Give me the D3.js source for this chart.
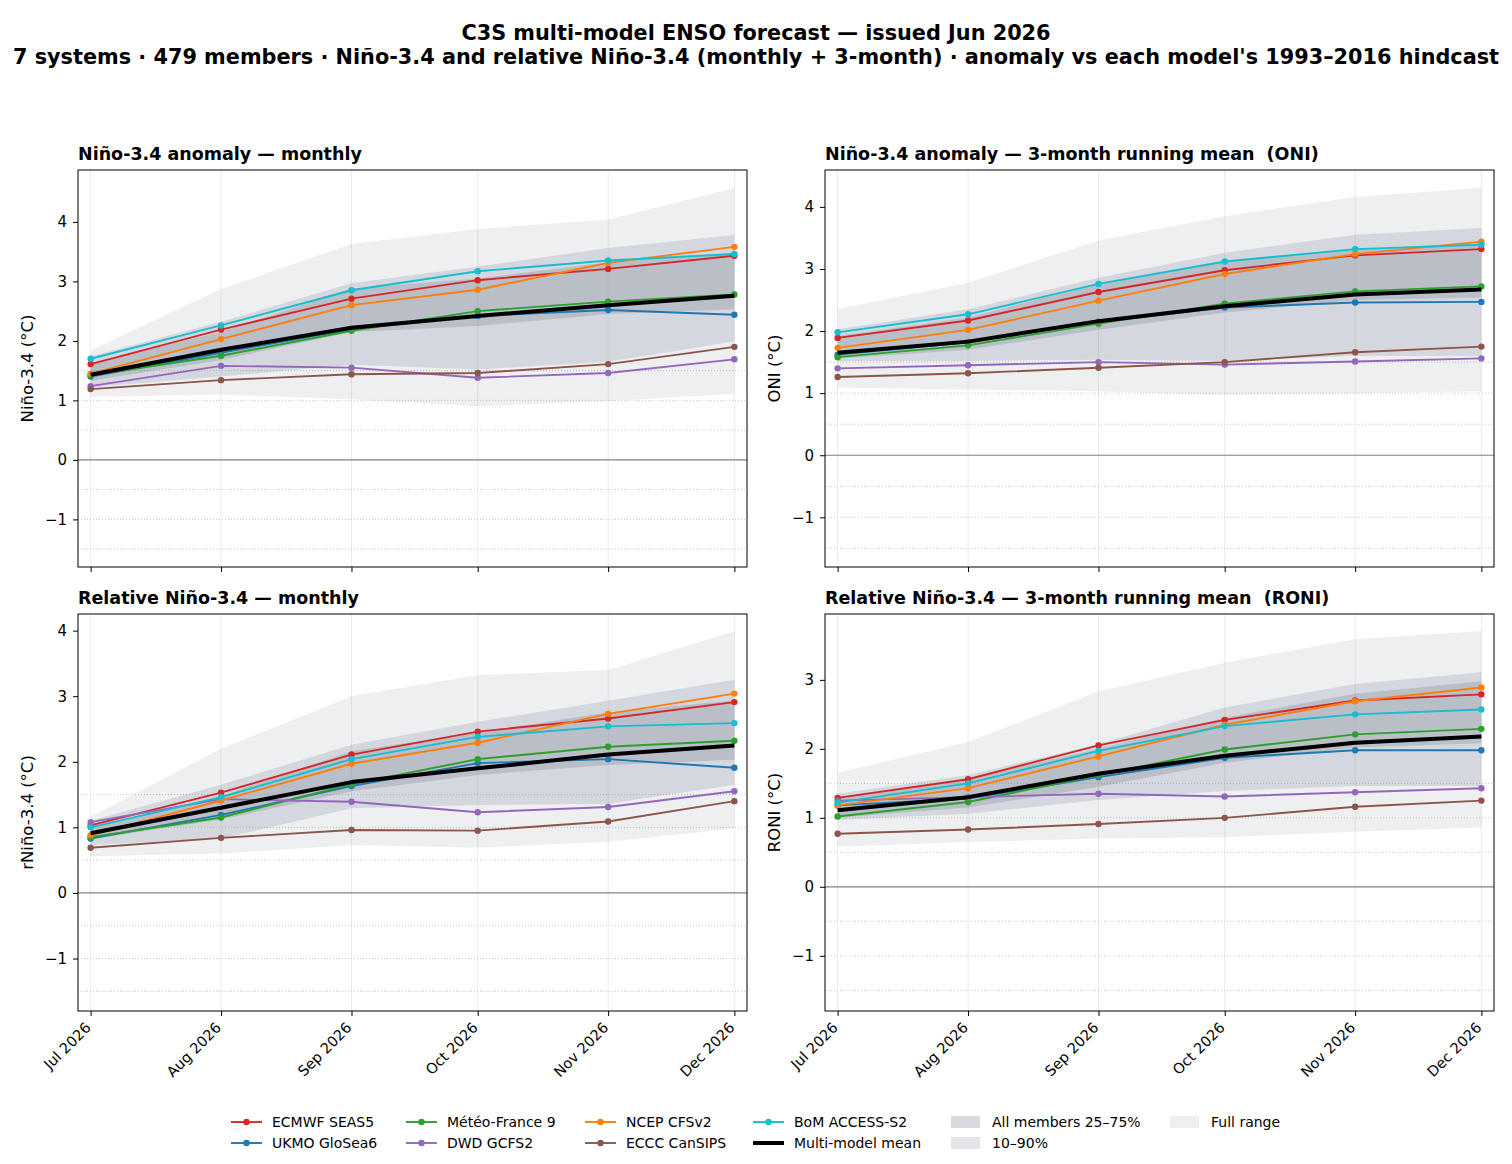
<!DOCTYPE html>
<html>
<head>
<meta charset="utf-8">
<title>C3S multi-model ENSO forecast</title>
<style>
body { margin: 0; background: #fff; }
text { font-family: "DejaVu Sans", sans-serif; fill: #000; white-space: pre; }
.tick line { stroke: #000; }
</style>
</head>
<body>
<script src="https://cdn.jsdelivr.net/npm/d3@7"></script>
<script>

// ---- data ----
const months = ["2026-07-01", "2026-08-01", "2026-09-01", "2026-10-01", "2026-11-01", "2026-12-01"];
const models = ["ECMWF SEAS5", "UKMO GloSea6", "Météo-France 9", "DWD GCFS2", "NCEP CFSv2", "ECCC CanSIPS", "BoM ACCESS-S2"];
const modelColors = ["#d62728", "#1f77b4", "#2ca02c", "#9467bd", "#ff7f0e", "#8c564b", "#17becf"];

// Niño-3.4 monthly
const n34Mon = [
  [1.61, 2.19, 2.71, 3.02, 3.21, 3.43],
  [1.40, 1.80, 2.20, 2.42, 2.52, 2.44],
  [1.42, 1.75, 2.17, 2.50, 2.66, 2.78],
  [1.24, 1.58, 1.55, 1.38, 1.46, 1.69],
  [1.45, 2.03, 2.60, 2.86, 3.31, 3.58],
  [1.19, 1.34, 1.44, 1.46, 1.61, 1.90],
  [1.70, 2.26, 2.85, 3.17, 3.35, 3.46]
];
const n34MonMean = [1.43, 1.85, 2.22, 2.42, 2.60, 2.76];
const n34MonMin = [1.06, 1.10, 1.02, 0.90, 0.99, 1.11];
const n34MonMax = [1.84, 2.87, 3.63, 3.88, 4.04, 4.57];
const n34MonP10 = [1.22, 1.40, 1.60, 1.52, 1.65, 1.99];
const n34MonP90 = [1.74, 2.32, 2.97, 3.25, 3.56, 3.78];
const n34MonP25 = [1.33, 1.68, 2.15, 2.25, 2.45, 2.53];
const n34MonP75 = [1.62, 2.15, 2.88, 3.05, 3.32, 3.48];

// ONI (3-month running mean)
const oni = [
  [1.89, 2.17, 2.63, 2.98, 3.22, 3.32],
  [1.62, 1.82, 2.15, 2.38, 2.46, 2.47],
  [1.58, 1.77, 2.12, 2.44, 2.64, 2.72],
  [1.40, 1.45, 1.50, 1.46, 1.51, 1.56],
  [1.73, 2.02, 2.49, 2.92, 3.24, 3.44],
  [1.26, 1.32, 1.41, 1.50, 1.66, 1.75],
  [1.98, 2.27, 2.76, 3.12, 3.32, 3.39]
];
const oniMean = [1.65, 1.83, 2.16, 2.40, 2.59, 2.67];
const oniMin = [1.09, 1.06, 1.03, 0.97, 1.00, 1.03];
const oniMax = [2.35, 2.78, 3.46, 3.85, 4.16, 4.31];
const oniP10 = [1.52, 1.52, 1.54, 1.52, 1.60, 1.60];
const oniP90 = [2.03, 2.35, 2.86, 3.26, 3.55, 3.66];
const oniP25 = [1.56, 1.70, 2.02, 2.30, 2.50, 2.54];
const oniP75 = [1.92, 2.22, 2.76, 3.12, 3.32, 3.42];

// relative Niño-3.4 monthly
const rn34Mon = [
  [1.03, 1.53, 2.11, 2.46, 2.66, 2.91],
  [0.83, 1.19, 1.63, 1.98, 2.04, 1.91],
  [0.85, 1.15, 1.66, 2.04, 2.23, 2.32],
  [1.08, 1.43, 1.39, 1.23, 1.31, 1.55],
  [0.88, 1.41, 1.97, 2.29, 2.73, 3.04],
  [0.69, 0.84, 0.96, 0.95, 1.09, 1.40],
  [1.00, 1.46, 2.04, 2.38, 2.54, 2.59]
];
const rn34MonMean = [0.91, 1.30, 1.69, 1.90, 2.11, 2.25];
const rn34MonMin = [0.56, 0.60, 0.73, 0.69, 0.78, 0.98];
const rn34MonMax = [1.16, 2.20, 3.00, 3.32, 3.40, 3.99];
const rn34MonP10 = [0.73, 0.83, 1.29, 1.34, 1.36, 1.65];
const rn34MonP90 = [1.10, 1.65, 2.26, 2.61, 2.93, 3.25];
const rn34MonP25 = [0.82, 1.12, 1.55, 1.80, 1.95, 2.03];
const rn34MonP75 = [1.00, 1.48, 2.16, 2.45, 2.75, 2.94];

// RONI (3-month running mean)
const roni = [
  [1.29, 1.56, 2.05, 2.42, 2.70, 2.79],
  [1.18, 1.28, 1.59, 1.87, 1.98, 1.98],
  [1.02, 1.23, 1.62, 1.99, 2.21, 2.29],
  [1.25, 1.30, 1.35, 1.31, 1.37, 1.43],
  [1.18, 1.43, 1.89, 2.35, 2.69, 2.89],
  [0.77, 0.83, 0.91, 1.00, 1.16, 1.25],
  [1.22, 1.50, 1.97, 2.33, 2.50, 2.57]
];
const roniMean = [1.11, 1.30, 1.64, 1.90, 2.09, 2.18];
const roniMin = [0.58, 0.65, 0.70, 0.72, 0.80, 0.86];
const roniMax = [1.65, 2.10, 2.83, 3.25, 3.59, 3.71];
const roniP10 = [0.97, 1.06, 1.26, 1.39, 1.46, 1.46];
const roniP90 = [1.35, 1.62, 2.07, 2.60, 2.94, 3.11];
const roniP25 = [1.00, 1.15, 1.45, 1.80, 2.02, 2.08];
const roniP75 = [1.30, 1.57, 2.00, 2.45, 2.80, 2.98];

// ---- layout ----
const width = 1512, height = 1164;
const W = 669, H = 397;
const dates = months.map(d3.timeParse("%Y-%m-%d"));

const panels = [
  {title: "Niño-3.4 anomaly — monthly", ylabel: "Niño-3.4 (°C)", left: 78, top: 170, xlabels: false,
   series: n34Mon, mean: n34MonMean, min: n34MonMin, max: n34MonMax, p10: n34MonP10, p90: n34MonP90, p25: n34MonP25, p75: n34MonP75},
  {title: "Niño-3.4 anomaly — 3-month running mean  (ONI)", ylabel: "ONI (°C)", left: 825, top: 170, xlabels: false,
   series: oni, mean: oniMean, min: oniMin, max: oniMax, p10: oniP10, p90: oniP90, p25: oniP25, p75: oniP75},
  {title: "Relative Niño-3.4 — monthly", ylabel: "rNiño-3.4 (°C)", left: 78, top: 614, xlabels: true,
   series: rn34Mon, mean: rn34MonMean, min: rn34MonMin, max: rn34MonMax, p10: rn34MonP10, p90: rn34MonP90, p25: rn34MonP25, p75: rn34MonP75},
  {title: "Relative Niño-3.4 — 3-month running mean  (RONI)", ylabel: "RONI (°C)", left: 825, top: 614, xlabels: true,
   series: roni, mean: roniMean, min: roniMin, max: roniMax, p10: roniP10, p90: roniP90, p25: roniP25, p75: roniP75}
];

const bandColor = "#7b8694";
const lw = 1.9, mr = 3.2, meanLw = 4;

var svg = d3.select("body").append("svg")
    .attr("width", width)
    .attr("height", height);

svg.append("rect").attr("width", width).attr("height", height).attr("fill", "#fff");

// suptitle
svg.append("text")
    .attr("x", width / 2).attr("y", 40)
    .attr("text-anchor", "middle")
    .style("font-size", "20.8px").style("font-weight", "bold")
    .text("C3S multi-model ENSO forecast — issued Jun 2026");
svg.append("text")
    .attr("x", width / 2).attr("y", 64)
    .attr("text-anchor", "middle")
    .style("font-size", "20.8px").style("font-weight", "bold")
    .text("7 systems · 479 members · Niño-3.4 and relative Niño-3.4 (monthly + 3-month) · anomaly vs each model's 1993–2016 hindcast");

panels.forEach(drawPanel);

function drawPanel(p) {
  var g = svg.append("g").attr("transform", "translate(" + p.left + "," + p.top + ")");

  var x = d3.scaleTime()
      .domain([d3.timeDay.offset(dates[0], -3), d3.timeDay.offset(dates[dates.length - 1], 3)])
      .range([0, W]);
  var y = d3.scaleLinear()
      .domain([-1.8, d3.max(p.max) * 1.066])
      .range([H, 0]);

  // vertical grid
  g.append("g").selectAll("line")
      .data(dates).enter().append("line")
      .attr("x1", d => x(d)).attr("x2", d => x(d))
      .attr("y1", 0).attr("y2", H)
      .attr("stroke", "#e6e6e6").attr("stroke-width", 0.8);

  // dotted reference lines
  g.append("g").selectAll("line")
      .data([-1.5, -1, -0.5, 0.5, 1, 1.5]).enter().append("line")
      .attr("x1", 0).attr("x2", W)
      .attr("y1", d => y(d)).attr("y2", d => y(d))
      .attr("stroke", "#b8b8b8").attr("stroke-width", 0.8)
      .attr("stroke-dasharray", "1,2");

  // bands
  var bands = [
    {lo: p.min, hi: p.max, op: 0.13},
    {lo: p.p10, hi: p.p90, op: 0.22},
    {lo: p.p25, hi: p.p75, op: 0.30}
  ];
  bands.forEach(function(b) {
    var area = d3.area()
        .x((d, i) => x(dates[i]))
        .y0((d, i) => y(b.lo[i]))
        .y1((d, i) => y(b.hi[i]));
    g.append("path")
        .datum(b.lo)
        .attr("d", area)
        .attr("fill", bandColor)
        .attr("fill-opacity", b.op);
  });

  // zero line
  g.append("line")
      .attr("x1", 0).attr("x2", W)
      .attr("y1", y(0)).attr("y2", y(0))
      .attr("stroke", "#808080").attr("stroke-width", 1.2);

  var line = d3.line()
      .x((d, i) => x(dates[i]))
      .y(d => y(d));

  // model lines
  p.series.forEach(function(vals, k) {
    g.append("path")
        .datum(vals)
        .attr("d", line)
        .attr("fill", "none")
        .attr("stroke", modelColors[k])
        .attr("stroke-width", lw);
    g.append("g").selectAll("circle")
        .data(vals).enter().append("circle")
        .attr("cx", (d, i) => x(dates[i]))
        .attr("cy", d => y(d))
        .attr("r", mr)
        .attr("fill", modelColors[k]);
  });

  // multi-model mean
  g.append("path")
      .datum(p.mean)
      .attr("d", line)
      .attr("fill", "none")
      .attr("stroke", "#000")
      .attr("stroke-width", meanLw)
      .attr("stroke-linejoin", "round");

  // frame
  g.append("rect")
      .attr("width", W).attr("height", H)
      .attr("fill", "none").attr("stroke", "#000").attr("stroke-width", 1);

  // axes
  var yt = d3.range(Math.ceil(y.domain()[0]), Math.floor(y.domain()[1]) + 1);
  var ya = g.append("g")
      .call(d3.axisLeft(y).tickValues(yt).tickFormat(d3.format("d")).tickSize(5).tickPadding(6));
  ya.select(".domain").remove();
  ya.selectAll("text").style("font-size", "15px").attr("fill", "#000");

  var xa = g.append("g")
      .attr("transform", "translate(0," + H + ")")
      .call(d3.axisBottom(x).tickValues(dates)
        .tickFormat(p.xlabels ? d3.timeFormat("%b %Y") : "")
        .tickSize(5));
  xa.select(".domain").remove();
  xa.selectAll("text")
      .style("font-size", "14.5px")
      .attr("fill", "#000")
      .attr("text-anchor", "end")
      .attr("x", 0).attr("y", 0).attr("dy", "0.35em")
      .attr("transform", "translate(-3,14) rotate(-45)");

  // titles
  g.append("text")
      .attr("x", 0).attr("y", -10)
      .style("font-size", "17.5px").style("font-weight", "bold")
      .text(p.title);

  g.append("text")
      .attr("transform", "translate(-51," + (H / 2) + ") rotate(-90)")
      .attr("text-anchor", "middle")
      .attr("dominant-baseline", "central")
      .style("font-size", "16.5px")
      .text(p.ylabel);
}

// ---- legend ----
var legendItems = [
  {label: models[0], kind: "model", k: 0}, {label: models[1], kind: "model", k: 1},
  {label: models[2], kind: "model", k: 2}, {label: models[3], kind: "model", k: 3},
  {label: models[4], kind: "model", k: 4}, {label: models[5], kind: "model", k: 5},
  {label: models[6], kind: "model", k: 6}, {label: "Multi-model mean", kind: "mean"},
  {label: "All members 25–75%", kind: "band", op: 0.30}, {label: "10–90%", kind: "band", op: 0.22},
  {label: "Full range", kind: "band", op: 0.13}
];
var colX = [231, 406, 585, 753, 951, 1170];
var rowY = [1122, 1143];

var leg = svg.append("g");
legendItems.forEach(function(it, i) {
  var cx = colX[Math.floor(i / 2)], cy = rowY[i % 2];
  var gi = leg.append("g").attr("transform", "translate(" + cx + "," + cy + ")");
  if (it.kind === "model") {
    gi.append("line").attr("x1", 0).attr("x2", 31).attr("y1", 0).attr("y2", 0)
        .attr("stroke", modelColors[it.k]).attr("stroke-width", lw);
    gi.append("circle").attr("cx", 15.5).attr("cy", 0).attr("r", mr).attr("fill", modelColors[it.k]);
  } else if (it.kind === "mean") {
    gi.append("line").attr("x1", 0).attr("x2", 31).attr("y1", 0).attr("y2", 0)
        .attr("stroke", "#000").attr("stroke-width", meanLw);
  } else {
    gi.append("rect").attr("x", 0).attr("y", -6).attr("width", 29).attr("height", 12)
        .attr("fill", bandColor).attr("fill-opacity", it.op);
  }
  gi.append("text")
      .attr("x", 41).attr("y", 0).attr("dy", "0.35em")
      .style("font-size", "14px")
      .text(it.label);
});

</script>
</body>
</html>
